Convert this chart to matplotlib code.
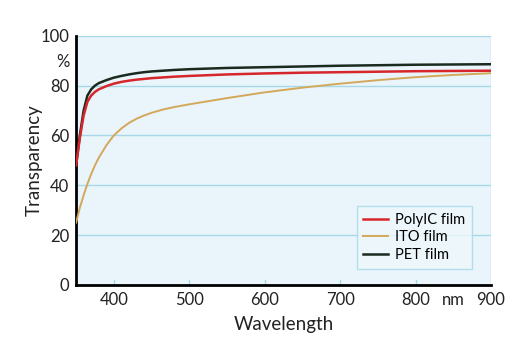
import matplotlib.pyplot as plt

# ── Data ──────────────────────────────────────────────────────────────
wavelength = [350, 355, 360, 365, 370, 375, 380, 390, 400, 410, 420, 430,
              440, 450, 465, 480, 500, 550, 600, 650, 700, 750, 800, 850, 900]
polyic = [48, 59, 68, 73.5, 76, 77.5, 78.5, 79.8, 80.8, 81.5, 82, 82.4,
          82.7, 83, 83.3, 83.6, 83.9, 84.5, 84.9, 85.2, 85.4, 85.6, 85.8, 85.9, 86]
ito = [25, 31, 36, 40.5, 44.5, 48, 51, 56, 60, 62.8, 65, 66.7,
       68, 69.1, 70.4, 71.4, 72.5, 75, 77.3, 79.2, 80.8, 82.2, 83.4, 84.3, 85]
pet = [48, 60, 70, 76, 78.5, 80, 81, 82.2, 83.2, 83.9, 84.5, 85,
       85.4, 85.7, 86, 86.3, 86.6, 87.1, 87.4, 87.7, 88, 88.2, 88.4, 88.5, 88.6]

x_ticks = [400, 500, 600, 700, 800, 850, 900]
x_labels = ["400", "500", "600", "700", "800", "nm", "900"]
y_ticks = [0, 20, 40, 60, 80, 90, 100]
y_labels = ["0", "20", "40", "60", "80", "%", "100"]

plt.rcParams["font.family"] = ["Lato", "DejaVu Sans"]

BG = "#e9f5fb"
GRID = "#a6d8ea"

fig = plt.figure(figsize=(5.32, 3.62), dpi=100)
ax = fig.add_axes([0.143, 0.213, 0.78, 0.688])
ax.set_facecolor(BG)

for yv in [20, 40, 60, 80, 100]:
    ax.axhline(yv, color=GRID, linewidth=1.0, zorder=1)
ax.axvline(900, color=GRID, linewidth=1.0, zorder=1)
for xv in [400, 500, 600, 700, 800]:
    ax.plot([xv, xv], [0, 2], color=GRID, linewidth=1.0, zorder=1)

ax.plot(wavelength, ito, color="#d4a85a", linewidth=1.4, label="ITO film", zorder=3)
ax.plot(wavelength, polyic, color="#d7262b", linewidth=1.8, label="PolyIC film", zorder=4)
ax.plot(wavelength, pet, color="#1b2a1e", linewidth=1.8, label="PET film", zorder=3)

ax.set_xlim(350, 900)
ax.set_ylim(0, 100)
ax.set_xticks(x_ticks)
ax.set_xticklabels(x_labels)
ax.set_yticks(y_ticks)
ax.set_yticklabels(y_labels)
ax.tick_params(length=0, labelsize=12, colors="#222222", pad=5)

ax.spines["top"].set_visible(False)
ax.spines["right"].set_visible(False)
ax.spines["left"].set_linewidth(2)
ax.spines["bottom"].set_linewidth(2)

ax.set_xlabel("Wavelength", fontsize=13.5, color="#222222", labelpad=6)
ax.set_ylabel("Transparency", fontsize=13.5, color="#222222", labelpad=-2)

handles, labels = ax.get_legend_handles_labels()
order = [1, 0, 2]
leg = ax.legend([handles[i] for i in order], [labels[i] for i in order],
                loc="lower right", bbox_to_anchor=(0.972, 0.036),
                fontsize=10.5, frameon=True, fancybox=False,
                handlelength=1.7, handletextpad=0.5,
                borderpad=0.45, labelspacing=0.25)
leg.get_frame().set_facecolor("#eef7fc")
leg.get_frame().set_edgecolor(GRID)
leg.get_frame().set_linewidth(1.0)

plt.savefig("out.png", dpi=100, facecolor="white")
plt.close()
